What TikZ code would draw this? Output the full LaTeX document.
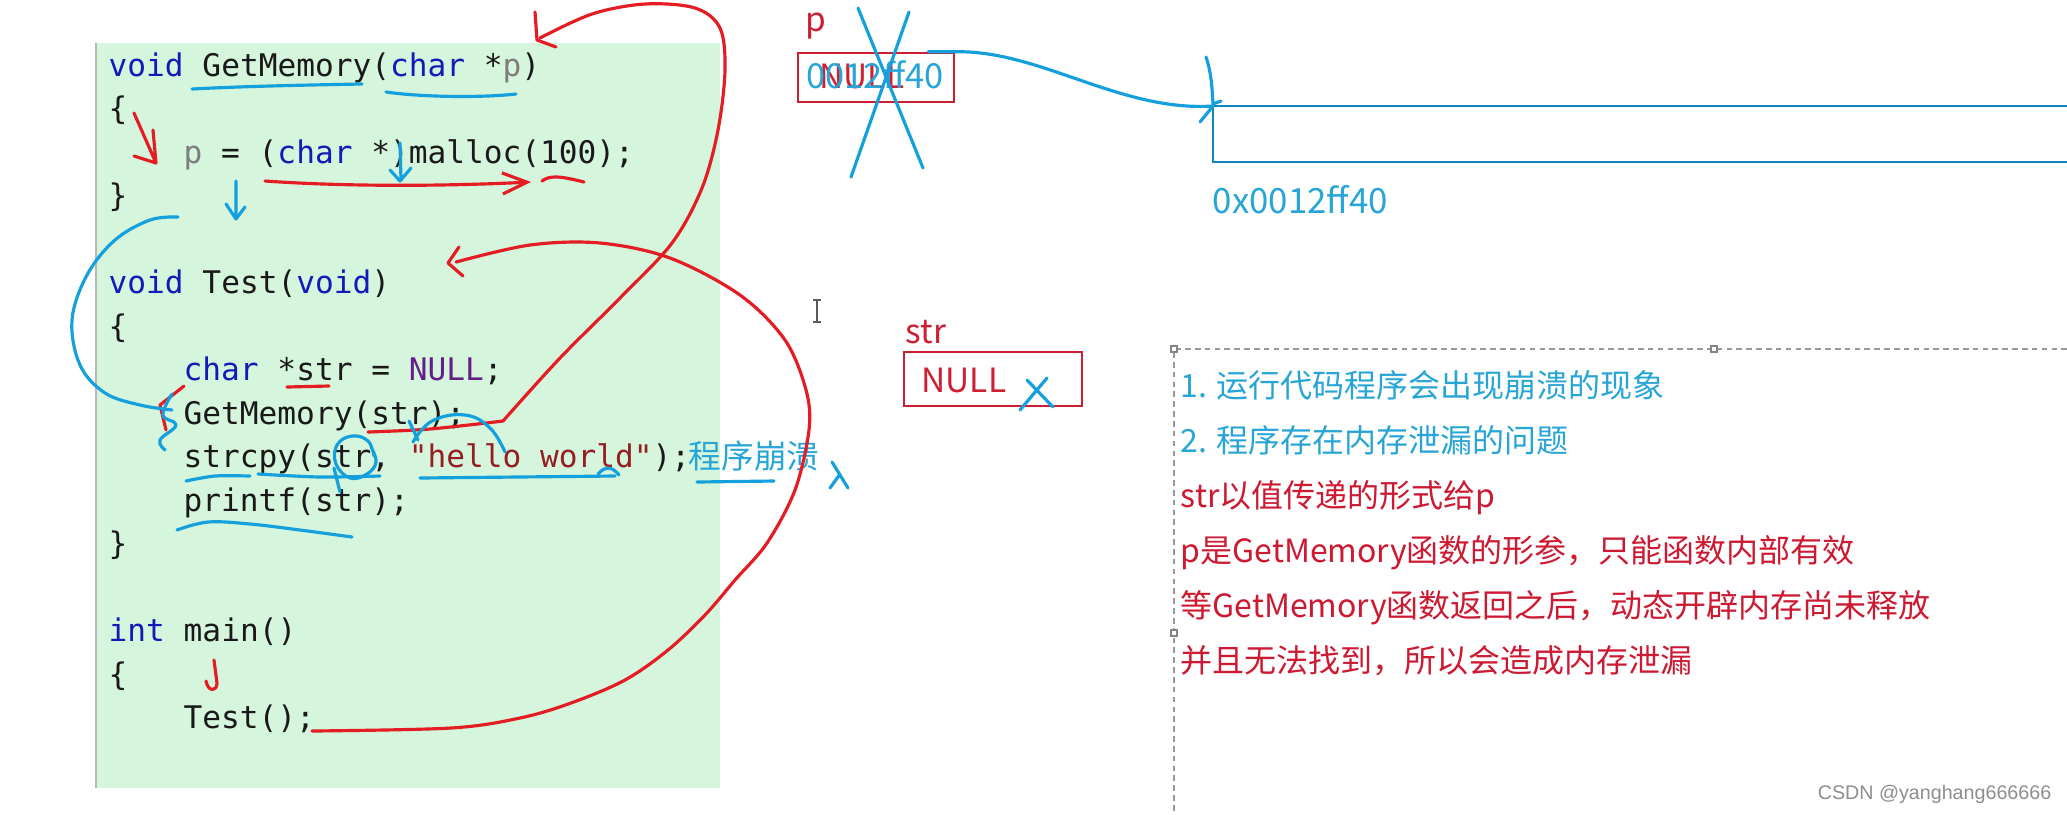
\documentclass[tikz,border=0pt]{standalone}
\usepackage{fontspec}
\setmainfont{Noto Sans CJK SC}
\newfontfamily\codefont{DejaVu Sans Mono}
\newfontfamily\markfont{Liberation Sans}
\usetikzlibrary{arrows.meta}
\definecolor{PG}{RGB}{213,245,221}
\definecolor{CT}{RGB}{25,25,25}
\definecolor{CK}{RGB}{20,25,185}
\definecolor{CP}{RGB}{125,125,125}
\definecolor{CM}{RGB}{100,30,135}
\definecolor{CS}{RGB}{150,30,35}
\definecolor{BR}{RGB}{205,30,50}
\definecolor{HR}{RGB}{228,28,36}
\definecolor{HB}{RGB}{20,160,220}
\definecolor{TB}{RGB}{40,165,215}
\definecolor{TR}{RGB}{205,25,50}
\definecolor{DG}{RGB}{50,50,50}
\newcommand{\ckw}[1]{\textcolor{CK}{#1}}
\newcommand{\cpar}[1]{\textcolor{CP}{#1}}
\newcommand{\cmac}[1]{\textcolor{CM}{#1}}
\newcommand{\cstr}[1]{\textcolor{CS}{#1}}

\begin{document}
\begin{tikzpicture}[x=0.01cm, y=-0.01cm,
  codeline/.style={anchor=base west, inner sep=0pt, text=CT,
                   font=\codefont\fontsize{8.86}{10}\selectfont},
  note/.style={anchor=base west, inner sep=0pt, font=\fontsize{9.1}{11}\selectfont},
  lbl/.style={inner sep=0pt, font=\fontsize{9.5}{11}\selectfont},
  cell/.style={draw=BR, line width=0.7pt, inner sep=0pt},
  memline/.style={draw=HB!85!black, line width=0.6pt},
  hred/.style={draw=HR, line width=0.9pt, line cap=round, line join=round},
  hblue/.style={draw=HB, line width=0.9pt, line cap=round, line join=round},
  dashbox/.style={draw=DG!50, line width=0.4pt, dash pattern=on 1.6pt off 1.2pt}
]
\path[use as bounding box, fill=white] (0,0) rectangle (2067,814);

% code panel
\fill[PG] (96,43) rectangle (720,788);
\draw[DG!35, line width=0.8pt] (96,43) -- (96,788);
\foreach \n/\cx/\ctxt in {
  1/108/{\ckw{void} GetMemory(\ckw{char} *\cpar{p})},
  2/108/{\{},
  3/183/{\cpar{p} = (\ckw{char} *)malloc(100);},
  4/108/{\}},
  6/108/{\ckw{void} Test(\ckw{void})},
  7/108/{\{},
  8/183/{\ckw{char} *str = \cmac{NULL};},
  9/183/{GetMemory(str);},
  10/183/{strcpy(str, \cstr{"hello world"});},
  11/183/{printf(str);},
  12/108/{\}},
  14/108/{\ckw{int} main()},
  15/108/{\{},
  16/183/{Test();}}
  \node[codeline] (c\n) at (\cx,{76+43.5*(\n-1)}) {\ctxt};
\node[note, text=TB, font=\fontsize{9.3}{11}\selectfont] (crash) at (688,468) {程序崩溃};
\draw[DG!80, line width=0.5pt] (813,300) -- (821,300) (817,300) -- (817,322) (813,322) -- (821,322);

% memory cells
\node[lbl, text=BR, anchor=base west] (plbl) at (805,31) {p};
\node[cell, minimum width=1.56cm, minimum height=0.49cm] (pbox) at (876,77.5) {};
\node[lbl, text=BR, anchor=base] (pnull) at (862,88) {NULL};
\node[lbl, text=TB, anchor=base, font=\fontsize{9.8}{11}\selectfont] (pval) at (875,88) {0012ff40};
\node[lbl, text=BR, anchor=base west] (slbl) at (905,343) {str};
\node[cell, minimum width=1.78cm, minimum height=0.54cm] (sbox) at (993,379) {};
\node[lbl, text=BR, anchor=base west] (sval) at (921,392) {NULL};
\coordinate (blk) at (1213,106);
\draw[memline] (2067,106) -- (blk) -- (1213,162) -- (2067,162);
\node[lbl, text=TB, anchor=base west, font=\fontsize{9.9}{11}\selectfont] (addr) at (1212,213) {0x0012ff40};

% notes
\draw[dashbox] (2067,349) -- (1174,349) -- (1174,814);
\foreach \hx/\hy in {1174/349, 1714/349, 1174/633}
  \draw[DG!60, fill=white, line width=0.4pt] (\hx-3,\hy-3) rectangle (\hx+3,\hy+3);
\foreach \n/\ccol/\ntxt in {
  1/TB/{1. 运行代码程序会出现崩溃的现象},
  2/TB/{2. 程序存在内存泄漏的问题},
  3/TR/{str以值传递的形式给p},
  4/TR/{p是GetMemory函数的形参，只能函数内部有效},
  5/TR/{等GetMemory函数返回之后，动态开辟内存尚未释放},
  6/TR/{并且无法找到，所以会造成内存泄漏}}
  \node[note, text=\ccol] (n\n) at (1180,{397+55*(\n-1)}) {\ntxt};
\node[anchor=base east, inner sep=0pt, text=DG!55,
      font=\markfont\fontsize{5.6}{7}\selectfont] (wm) at (2052,799) {CSDN @yanghang666666};

% red pen
\draw[hred] plot[smooth, tension=0.55] coordinates {(368,432) (430,429) (503,421)};
\draw[hred] plot[smooth, tension=0.55] coordinates {(503,421) (560,358) (620,298) (672,243)
  (702,188) (718,130) (725,70) (720,28) (695,8) (645,4) (592,14) (540,38)};
\draw[hred] (535,12) -- (537,40) -- (556,47);
\draw[hred] plot[smooth, tension=0.55] coordinates {(312,731) (451,728) (520,718) (571,703)
  (625,680) (668,650) (705,615) (735,580) (767,543) (795,490) (809,430) (806,390) (785,340)
  (740,295) (670,258) (600,243) (530,245) (456,262)};
\draw[hred] (459,247) -- (448,263) -- (463,276);
\draw[hred] (134,113) -- (156,163) -- (134,156) (156,163) -- (153,130);
\draw[hred, -{Straight Barb[length=7pt, width=6pt]}] (265,181) .. controls (350,187) and (450,186) .. (531,182);
\draw[hred] (542,181) .. controls (550,175) and (560,176) .. (584,182);
\draw[hred] (287,387) -- (329,386);
\draw[hred] (184,386) -- (160,405) -- (166,430);
\draw[hred] (214,660) -- (217,683) .. controls (217,692) and (208,692) .. (206,681);

% blue pen
\draw[hblue] (192,89) .. controls (250,86) and (310,85) .. (362,84);
\draw[hblue] (386,92) .. controls (420,97) and (480,98) .. (516,94);
\draw[hblue] (400,143) -- (401,180) (390,170) -- (400,181) -- (411,168);
\draw[hblue] (236,181) -- (236,219) (226,204) -- (236,219) -- (245,207);
\draw[hblue] plot[smooth, tension=0.6] coordinates {(178,217) (150,220) (115,240) (87,275)
  (72,320) (80,365) (105,393) (140,405) (172,410)};
\draw[hblue] plot[smooth, tension=0.7] coordinates {(172,394) (163,415) (176,425) (160,440) (165,450)};
\draw[hblue] plot[smooth, tension=0.7] coordinates {(374,456) (368,441) (352,436) (337,445)
  (336,464) (350,478) (367,474) (376,462) (371,447)};
\draw[hblue] (334,468) -- (340,492);
\draw[hblue] plot[smooth, tension=0.7] coordinates {(413,442) (432,421) (465,415) (490,428) (505,452)};
\draw[hblue] (409,421) -- (418,440);
\draw[hblue] plot[smooth] coordinates {(186,481) (215,476) (250,476)};
\draw[hblue] plot[smooth] coordinates {(258,474) (320,477) (380,476)};
\draw[hblue] (420,478) -- (615,476);
\draw[hblue] (598,474) .. controls (605,466) and (612,466) .. (619,475);
\draw[hblue] plot[smooth, tension=0.6] coordinates {(177,530) (208,522) (250,524) (300,530) (352,537)};
\draw[hblue] (697,482) -- (774,481);
\draw[hblue] (832,462) -- (848,488) (840,474) -- (830,488);
\draw[hblue] (858,8) -- (923,168) (909,12) -- (851,177);
\draw[hblue] ([xshift=-0.27cm]pbox.north east) -- (pbox.north east) .. controls (1040,50) and (1120,112) .. (blk);
\draw[hblue] (1206,57) .. controls (1212,75) and (1212,90) .. (1213,104) -- (1221,101);
\draw[hblue] (1200,122) -- (blk);
\draw[hblue] (1020,410) -- (1047,378) (1027,380) -- (1053,407);
\end{tikzpicture}
\end{document}
